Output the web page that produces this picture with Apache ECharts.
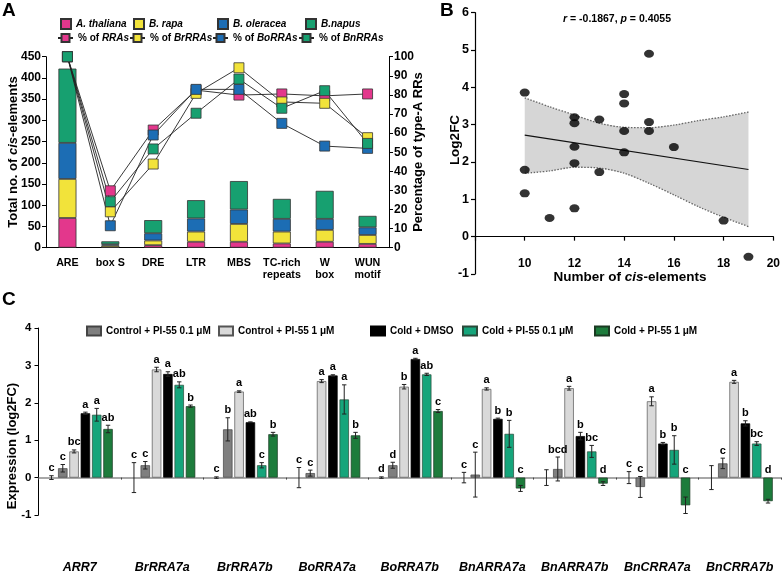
<!DOCTYPE html>
<html><head><meta charset="utf-8">
<script src="https://cdn.jsdelivr.net/npm/echarts@6/dist/echarts.min.js"></script>
<style>html,body{margin:0;padding:0;background:#fff}#c{width:783px;height:574px}</style>
</head><body><div id="c"></div>
<script>
// ---------- Panel A data ----------
const aCategories = ['ARE','box S','DRE','LTR','MBS','TC-rich\nrepeats','W\nbox','WUN\nmotif'];
const aThaliana = [70, 1, 6, 14, 14, 10, 14, 9];
const bRapa     = [92, 4, 11, 24, 42, 28, 28, 21];
const bOleracea = [85, 3, 17, 31, 34, 30, 26, 18];
const bNapus    = [175, 7, 31, 43, 67, 47, 66, 27];
const pctRRAs   = [100, 29.8, 61.6, 82.5, 79.9, 80.5, 79.5, 80.5];
const pctBrRRAs = [100, 18.8, 43.8, 80.8, 94.2, 76.3, 75.6, 57.6];
const pctBoRRAs = [100, 11.5, 59.0, 82.9, 82.9, 65.1, 53.2, 52.0];
const pctBnRRAs = [100, 24.1, 51.7, 70.4, 88.3, 73.0, 82.2, 54.6];
const aLeftTicks  = [0,50,100,150,200,250,300,350,400,450];
const aRightTicks = [0,10,20,30,40,50,60,70,80,90,100];

// ---------- Panel B data ----------
const bX = [10,10,10,11,12,12,12,12,12,13,13,14,14,14,14,15,15,15,16,18,19];
const bY = [3.86,1.79,1.16,0.50,3.20,3.04,2.41,1.97,0.76,3.14,1.73,3.82,3.57,2.83,2.26,4.90,3.07,2.83,2.40,0.43,-0.54];
const fitX = [10, 19];
const fitY = [2.72, 1.80];
const bandX     = [10, 11, 12, 13, 14, 15, 16, 17, 18, 19];
const bandUpper = [3.72, 3.48, 3.26, 3.04, 2.93, 2.92, 2.99, 3.11, 3.21, 3.34];
const bandLower = [1.70, 1.76, 1.86, 1.84, 1.70, 1.43, 1.12, 0.80, 0.52, 0.27];
const bXTicks = [8,10,12,14,16,18,20];
const bYTicks = [-1,0,1,2,3,4,5,6];

// ---------- Panel C data ----------
const genes = ['ARR7','BrRRA7a','BrRRA7b','BoRRA7a','BoRRA7b','BnARRA7a','BnARRA7b','BnCRRA7a','BnCRRA7b'];
const mockVal = [0,0,0,0,0,0,0,0,0];
const mockErr = [0.05,0.40,0.02,0.27,0.02,0.14,0.21,0.16,0.32];
const mockLab = ['c','c','c','c','d','c','','c',''];
const ctl01Val = [0.25,0.33,1.29,0.12,0.33,0.08,0.23,-0.25,0.38];
const ctl01Err = [0.10,0.10,0.31,0.08,0.08,0.60,0.32,0.28,0.14];
const ctl01Lab = ['c','c','b','c','d','c','bcd','c','c'];
const ctl1Val = [0.70,2.89,2.30,2.58,2.43,2.37,2.39,2.04,2.56];
const ctl1Err = [0.04,0.06,0.02,0.04,0.06,0.03,0.05,0.12,0.04];
const ctl1Lab = ['bc','a','a','a','b','a','a','a','a'];
const dmsoVal = [1.72,2.77,1.48,2.73,3.17,1.57,1.11,0.91,1.45];
const dmsoErr = [0.03,0.06,0.01,0.02,0.02,0.02,0.10,0.03,0.07];
const dmsoLab = ['a','a','ab','a','a','b','b','b','b'];
const cold01Val = [1.68,2.48,0.33,2.09,2.76,1.17,0.70,0.74,0.91];
const cold01Err = [0.17,0.08,0.07,0.39,0.03,0.36,0.16,0.38,0.05];
const cold01Lab = ['a','ab','c','a','ab','b','bc','b','bc'];
const cold1Val = [1.30,1.91,1.16,1.13,1.78,-0.29,-0.16,-0.74,-0.63];
const cold1Err = [0.10,0.03,0.05,0.08,0.04,0.08,0.05,0.22,0.05];
const cold1Lab = ['ab','b','b','b','c','c','d','c','d'];
const cYTicks = [-1,0,1,2,3,4];

// ---------- styles ----------
const FF = "'Liberation Sans', Arial, sans-serif";
const PINK='#e3378c', YEL='#f2e33a', BLUE='#1c6db4', GRN='#17a070';
const C_DG='#7f7f7f', C_LG='#d9d9d9', C_BK='#000000', C_TG='#15a57b', C_DKG='#1d7c3c';

const chart = echarts.init(document.getElementById('c'), null, {renderer:'canvas'});

const italicRich = (size) => ({ i: { fontStyle:'italic', fontWeight:'bold', fontSize:size, fontFamily:FF, color:'#000' } });

const legendFmt = {
  'A. thaliana':'{i|A. thaliana}', 'B. rapa':'{i|B. rapa}', 'B. oleracea':'{i|B. oleracea}', 'B.napus':'{i|B.napus}',
  '% of RRAs':'% of {i|RRAs}', '% of BrRRAs':'% of {i|BrRRAs}', '% of BoRRAs':'% of {i|BoRRAs}', '% of BnRRAs':'% of {i|BnRRAs}'
};
function legA(name, left, top, w, icon){
  const l = { data:[name], left:left, top:top, padding:0, itemWidth:w, itemHeight:10, selectedMode:false,
    textStyle:{ fontSize:10, fontWeight:'bold', fontFamily:FF, color:'#000', rich: italicRich(10) },
    formatter: n => legendFmt[n] };
  if (icon) l.icon = icon;
  return l;
}
function legC(name, left){
  return { data:[name], left:left, top:325.5, padding:0, itemWidth:14, itemHeight:9, icon:'rect', selectedMode:false,
    textStyle:{ fontSize:10, fontWeight:'bold', fontFamily:FF, color:'#000' } };
}

const axisTxt = (size) => ({ fontSize:size, fontWeight:'bold', fontFamily:FF, color:'#000' });
const blackLine = { show:true, lineStyle:{ color:'#000', width:1 } };

// Panel C error-bar data
const cSets = [[mockVal,mockErr,mockLab],[ctl01Val,ctl01Err,ctl01Lab],[ctl1Val,ctl1Err,ctl1Lab],
               [dmsoVal,dmsoErr,dmsoLab],[cold01Val,cold01Err,cold01Lab],[cold1Val,cold1Err,cold1Lab]];
const errData = [], errLabels = [];
cSets.forEach((s, si) => {
  genes.forEach((g, gi) => { errData.push([gi, si, s[0][gi], s[1][gi]]); errLabels.push(s[2][gi]); });
});

function cBar(name, vals, color, border){
  return { type:'bar', name:name, xAxisIndex:2, yAxisIndex:3, data:vals, barGap:'20%', barCategoryGap:'20%',
    itemStyle:{ color:color, borderColor:border, borderWidth:0.7 } };
}
function aBar(name, vals, color){
  return { type:'bar', name:name, stack:'a', xAxisIndex:0, yAxisIndex:0, data:vals, barWidth:18,
    itemStyle:{ color:color, borderColor:'#333', borderWidth:0.8 } };
}
function aLine(name, vals, color){
  return { type:'line', name:name, xAxisIndex:0, yAxisIndex:1, data:vals, symbol:'rect', symbolSize:10, z:5,
    lineStyle:{ color:'#222', width:0.9 }, itemStyle:{ color:color, borderColor:'#333', borderWidth:0.8 } };
}

// B grid geometry: 7 units over 261.3 px; x axis drawn at y = 0
const bGridH = 261.3;
const bZeroOffset = -bGridH * (0 - bYTicks[0]) / (bYTicks[bYTicks.length-1] - bYTicks[0]);

const txt = (o) => Object.assign({ type:'text', z:100 }, o);

const option = {
  animation:false,
  backgroundColor:'#fff',
  grid:[
    { left:46, top:56.7, width:343, height:191 },
    { left:475, top:12.7, width:301.5, height:bGridH },
    { left:38.5, top:328, width:742.5, height:232 }
  ],
  legend:[
    legA('A. thaliana', 60, 18, 10, 'rect'), legA('B. rapa', 133, 18, 10, 'rect'),
    legA('B. oleracea', 217, 18, 10, 'rect'), legA('B.napus', 305, 18, 10, 'rect'),
    legA('% of RRAs', 57, 33, 15), legA('% of BrRRAs', 129, 33, 15),
    legA('% of BoRRAs', 212, 33, 15), legA('% of BnRRAs', 298, 33, 15),
    legC('Control + PI-55 0.1 μM', 86), legC('Control + PI-55 1 μM', 218), legC('Cold + DMSO', 370),
    legC('Cold + PI-55 0.1 μM', 462), legC('Cold + PI-55 1 μM', 594)
  ],
  xAxis:[
    { type:'category', gridIndex:0, data:aCategories, axisLine:blackLine,
      axisTick:{ alignWithLabel:true, length:4, lineStyle:{color:'#000'} },
      axisLabel:Object.assign({ interval:0, margin:9, lineHeight:12.5 }, axisTxt(10.7)) },
    { type:'value', gridIndex:1, min:bXTicks[0], max:bXTicks[bXTicks.length-1], interval:2,
      offset: bZeroOffset,
      axisLine:{ show:true, onZero:false, lineStyle:{ color:'#000', width:1.2 } },
      axisTick:{ show:true, length:4, lineStyle:{color:'#000', width:1.2} }, splitLine:{show:false},
      axisLabel:Object.assign({ margin:21, formatter: v => (v === bXTicks[0] ? '' : v) }, axisTxt(12)) },
    { type:'category', gridIndex:2, data:genes,
      axisLine:{ show:true, onZero:true, lineStyle:{ color:'#8a8a8a', width:1.5 } },
      axisTick:{ show:true, length:2, lineStyle:{color:'#444'} },
      axisLabel:Object.assign({ interval:0, margin:46, fontStyle:'italic' }, axisTxt(12.5)) }
  ],
  yAxis:[
    { type:'value', gridIndex:0, min:aLeftTicks[0], max:aLeftTicks[aLeftTicks.length-1], interval:50,
      axisLine:Object.assign({ onZero:false }, blackLine), axisTick:{ show:true, length:4, lineStyle:{color:'#000'} },
      splitLine:{show:false}, axisLabel:Object.assign({ margin:5 }, axisTxt(12)) },
    { type:'value', gridIndex:0, position:'right', min:aRightTicks[0], max:aRightTicks[aRightTicks.length-1], interval:10,
      axisLine:Object.assign({ onZero:false }, blackLine), axisTick:{ show:true, length:4, lineStyle:{color:'#000'} },
      splitLine:{show:false}, axisLabel:Object.assign({ margin:5 }, axisTxt(12)) },
    { type:'value', gridIndex:1, min:bYTicks[0], max:bYTicks[bYTicks.length-1], interval:1,
      axisLine:{ show:true, onZero:false, lineStyle:{ color:'#000', width:1.2 } },
      axisTick:{ show:true, length:4, lineStyle:{color:'#000', width:1.2} },
      splitLine:{show:false}, axisLabel:Object.assign({ margin:6 }, axisTxt(12.5)) },
    { type:'value', gridIndex:2, min:cYTicks[0], max:cYTicks[cYTicks.length-1], interval:1,
      axisLine:Object.assign({ onZero:false }, blackLine), axisTick:{ show:true, length:4, lineStyle:{color:'#000'} },
      splitLine:{show:false}, axisLabel:Object.assign({ margin:7 }, axisTxt(11.5)) }
  ],
  series:[
    aBar('A. thaliana', aThaliana, PINK), aBar('B. rapa', bRapa, YEL),
    aBar('B. oleracea', bOleracea, BLUE), aBar('B.napus', bNapus, GRN),
    aLine('% of RRAs', pctRRAs, PINK), aLine('% of BrRRAs', pctBrRRAs, YEL),
    aLine('% of BoRRAs', pctBoRRAs, BLUE), aLine('% of BnRRAs', pctBnRRAs, GRN),
    // Panel B confidence band polygon (upper bound forward, lower bound backward)
    { type:'custom', name:'band', xAxisIndex:1, yAxisIndex:2, z:1, data:[[bandX[0], bandLower[0]]],
      renderItem: function(params, api){
        const pts = [];
        for (let i = 0; i < bandX.length; i++) pts.push(api.coord([bandX[i], bandUpper[i]]));
        for (let i = bandX.length - 1; i >= 0; i--) pts.push(api.coord([bandX[i], bandLower[i]]));
        return { type:'polygon', shape:{ points:pts }, style:{ fill:'#d6d6d6', stroke:null } };
      } },
    { type:'line', name:'upper', xAxisIndex:1, yAxisIndex:2, smooth:0.3, symbol:'none', z:2,
      data: bandX.map((x,i)=>[x, bandUpper[i]]), lineStyle:{ color:'#666', width:1.3, type:[1.5,1.5] } },
    { type:'line', name:'lower', xAxisIndex:1, yAxisIndex:2, smooth:0.3, symbol:'none', z:2,
      data: bandX.map((x,i)=>[x, bandLower[i]]), lineStyle:{ color:'#666', width:1.3, type:[1.5,1.5] } },
    { type:'line', name:'fit', xAxisIndex:1, yAxisIndex:2, symbol:'none', z:3,
      data: fitX.map((x,i)=>[x, fitY[i]]), lineStyle:{ color:'#111', width:1.2 } },
    { type:'scatter', name:'pts', xAxisIndex:1, yAxisIndex:2, symbol:'circle', symbolSize:[10,8], z:6,
      data: bX.map((x,i)=>[x, bY[i]]), itemStyle:{ color:'#000' } },
    // Panel C bars
    cBar('mock', mockVal, 'rgba(0,0,0,0)', 'rgba(0,0,0,0)'),
    cBar('Control + PI-55 0.1 μM', ctl01Val, C_DG, '#444'),
    cBar('Control + PI-55 1 μM', ctl1Val, C_LG, '#555'),
    cBar('Cold + DMSO', dmsoVal, C_BK, '#000'),
    cBar('Cold + PI-55 0.1 μM', cold01Val, C_TG, '#2a4a3a'),
    cBar('Cold + PI-55 1 μM', cold1Val, C_DKG, '#1a3a22'),
    { type:'custom', name:'err', xAxisIndex:2, yAxisIndex:3, data:errData, encode:{ x:0, y:2 }, z:8,
      renderItem: function(params, api){
        const gi = api.value(0), si = api.value(1), v = api.value(2), e = api.value(3);
        const bw = api.size([1,0])[0];
        const barW = bw*0.8/7;
        const cx = api.coord([gi, 0])[0] - 0.4*bw + si*barW*1.2 + barW/2;
        const yT = api.coord([gi, v+e])[1], yB = api.coord([gi, v-e])[1];
        const yLab = api.coord([gi, Math.max(0, v+e)])[1] - 2;
        const cap = 2.2, ls = { stroke:'#222', lineWidth:1 };
        return { type:'group', children:[
          { type:'line', shape:{ x1:cx, y1:yT, x2:cx, y2:yB }, style:ls },
          { type:'line', shape:{ x1:cx-cap, y1:yT, x2:cx+cap, y2:yT }, style:ls },
          { type:'line', shape:{ x1:cx-cap, y1:yB, x2:cx+cap, y2:yB }, style:ls },
          { type:'text', style:{ text: errLabels[params.dataIndex], x:cx, y:yLab, align:'center', verticalAlign:'bottom',
              fontSize:11, fontWeight:'bold', fontFamily:FF, fill:'#000' } }
        ]};
      } }
  ],
  graphic:[
    txt({ left:2, top:1, style:{ text:'A', fontSize:19, fontWeight:'bold', fontFamily:FF, fill:'#000' } }),
    txt({ left:440, top:1, style:{ text:'B', fontSize:19, fontWeight:'bold', fontFamily:FF, fill:'#000' } }),
    txt({ left:2, top:290, style:{ text:'C', fontSize:19, fontWeight:'bold', fontFamily:FF, fill:'#000' } }),
    txt({ x:13, y:152, rotation:Math.PI/2,
      style:{ text:'Total no. of {i|cis}-elements', align:'center', verticalAlign:'middle', fontSize:13, fontWeight:'bold', fontFamily:FF, fill:'#000', rich: italicRich(13) } }),
    txt({ x:418, y:152, rotation:Math.PI/2,
      style:{ text:'Percentage of type-A RRs', align:'center', verticalAlign:'middle', fontSize:13, fontWeight:'bold', fontFamily:FF, fill:'#000' } }),
    txt({ x:617, y:19,
      style:{ text:'{i|r} = -0.1867, {i|p} = 0.4055', align:'center', verticalAlign:'middle', fontSize:10.5, fontWeight:'bold', fontFamily:FF, fill:'#000', rich: italicRich(10.5) } }),
    txt({ x:455, y:140, rotation:Math.PI/2,
      style:{ text:'Log2FC', align:'center', verticalAlign:'middle', fontSize:13.5, fontWeight:'bold', fontFamily:FF, fill:'#000' } }),
    txt({ x:630, y:277,
      style:{ text:'Number of {i|cis}-elements', align:'center', verticalAlign:'middle', fontSize:13.5, fontWeight:'bold', fontFamily:FF, fill:'#000', rich: italicRich(13.5) } }),
    txt({ x:12, y:446, rotation:Math.PI/2,
      style:{ text:'Expression (log2FC)', align:'center', verticalAlign:'middle', fontSize:13, fontWeight:'bold', fontFamily:FF, fill:'#000' } })
  ]
};
chart.setOption(option);
</script>
</body></html>
